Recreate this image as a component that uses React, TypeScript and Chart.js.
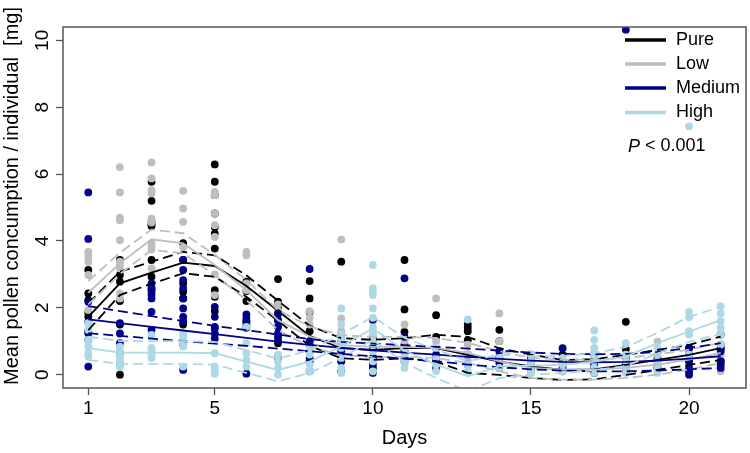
import React, { useEffect, useRef } from "react";
import { Chart, registerables } from "chart.js";

Chart.register(...registerables);

const days = [1, 2, 3, 4, 5, 6, 7, 8, 9, 10, 11, 12, 13, 14, 15, 16, 17, 18, 19, 20, 21];
const xTicks = [1, 5, 10, 15, 20];
const yTicks = [0, 2, 4, 6, 8, 10];
const groupNames = ["Pure", "Low", "Medium", "High"];
const groupColors = ["#000000", "#BEBEBE", "#00008B", "#ADD8E6"];
const xTitle = "Days";
const yTitle = "Mean pollen concumption / individual  [mg]";
const pText = " < 0.001";

// observed values per day (index 0 = day 1)
const purePoints = [
  [3.13, 2.43, 2.23, 1.85, 1.73, 1.3],
  [3.43, 2.98, 2.78, 2.2, 1.5, 0.0],
  [5.77, 5.2, 4.57, 4.5, 4.45, 3.43, 2.93, 2.55],
  [3.93, 3.43, 2.73, 2.48, 2.28, 1.5, 0.9],
  [6.29, 5.77, 5.37, 4.82, 4.42, 4.22, 3.77, 2.53, 2.33, 1.9],
  [2.78, 2.5, 2.2, 1.6],
  [2.86, 2.18, 2.03, 1.83, 1.63, 1.13, 0.94],
  [2.8, 2.28, 1.88, 1.3, 0.9, 0.5],
  [3.38, 1.2, 0.8, 0.4],
  [1.1, 0.8, 0.5, 0.2],
  [3.43, 1.95, 1.28, 0.9, 0.5],
  [1.78, 1.13, 0.8, 0.5],
  [1.5, 1.4, 1.3, 1.03, 0.6],
  [1.34, 1.0, 0.5, 0.2],
  [0.6, 0.3, 0.1],
  [0.6, 0.3, 0.1],
  [0.4, 0.2, 0.05],
  [1.58, 0.77, 0.3],
  [0.5, 0.2],
  [0.8, 0.4, 0.1],
  [1.2, 0.8, 0.4],
];
const lowPoints = [
  [3.67, 3.53, 3.38, 2.98, 1.93],
  [6.21, 5.45, 4.7, 4.62, 4.02, 3.38, 3.28, 3.18, 2.43, 2.28],
  [6.35, 5.87, 5.52, 5.42, 4.67, 4.55, 3.93, 3.85, 3.75, 3.18],
  [5.5, 4.97, 4.57, 3.8],
  [5.47, 5.37, 4.82, 4.47, 4.12, 3.0, 2.38],
  [3.67, 3.57, 2.73, 2.53],
  [2.1, 1.9, 1.5],
  [1.9, 1.7, 1.5, 1.0],
  [4.04, 1.68, 1.3, 0.8],
  [1.6, 1.2, 0.9],
  [1.5, 1.0, 0.7],
  [2.28, 1.0, 0.6],
  [0.9, 0.5],
  [1.83, 1.0, 0.6],
  [0.3, 0.1],
  [0.4, 0.1],
  [0.3, 0.1],
  [0.5, 0.2],
  [0.99, 0.6, 0.3],
  [0.7, 0.3],
  [0.6, 0.3, 0.1],
];
const mediumPoints = [
  [5.45, 4.06, 2.18, 1.58, 1.24, 1.04, 0.24],
  [1.54, 1.23, 0.94, 0.64, 0.3],
  [2.73, 2.6, 2.5, 2.4, 2.28, 1.88, 1.34],
  [3.43, 3.13, 2.83, 2.58, 2.28, 1.98, 1.73, 1.6, 0.14],
  [2.03, 1.73, 1.43, 1.38, 1.23, 1.08],
  [1.8, 1.7, 1.6, 1.5, 1.4, 0.03],
  [1.83, 1.63, 1.43, 1.23, 1.03, 0.5],
  [3.16, 1.0, 0.7, 0.4, 0.1],
  [1.0, 0.7, 0.4, 0.1],
  [1.65, 0.8, 0.5, 0.3, 0.05],
  [2.88, 1.13, 0.7, 0.4],
  [0.6, 0.4, 0.2],
  [0.6, 0.3],
  [0.7, 0.5, 0.35],
  [0.5, 0.2],
  [0.79, 0.4, 0.2],
  [0.6, 0.3],
  [10.32, 0.5, 0.3, 0.1],
  [0.4, 0.2],
  [0.8, 0.6, 0.4, 0.2, 0.0],
  [0.9, 0.8, 0.7, 0.4, 0.3, 0.2],
];
const highPoints = [
  [1.54, 1.34, 1.04, 0.84, 0.64, 0.54],
  [0.84, 0.7, 0.6, 0.5, 0.4, 0.3, 0.24],
  [1.19, 0.8, 0.7, 0.6, 0.5],
  [1.24, 1.14, 1.04, 0.94, 0.84, 0.24],
  [0.64, 0.24, 0.1, 0.03],
  [1.43, 0.94, 0.64, 0.44, 0.24],
  [0.6, 0.4, 0.2, 0.0],
  [0.8, 0.6, 0.3, 0.1],
  [1.98, 1.5, 1.2, 1.0, 0.8, 0.5, 0.2, 0.05],
  [3.28, 2.58, 2.48, 2.38, 1.98, 1.7, 1.4, 1.2, 1.0, 0.7, 0.4, 0.1],
  [0.8, 0.6, 0.4, 0.2],
  [0.8, 0.5, 0.3, 0.1],
  [1.65, 0.6, 0.3, 0.1],
  [0.5, 0.2],
  [0.6, 0.4, 0.2, 0.05],
  [0.5, 0.3, 0.1],
  [1.32, 1.04, 0.8, 0.6, 0.4, 0.2, 0.05],
  [0.94, 0.6, 0.4, 0.2, 0.05],
  [0.8, 0.6, 0.4, 0.2, 0.05],
  [7.43, 1.88, 1.72, 1.3, 1.2, 0.6],
  [2.05, 1.83, 1.6, 1.4, 1.2, 0.9],
];

// fitted curves with confidence bands (index 0 = day 1)
const pureFit = [1.73, 2.73, 3.05, 3.35, 3.25, 2.65, 1.91, 1.16, 0.79, 0.74, 0.79, 0.79, 0.59, 0.39, 0.25, 0.14, 0.16, 0.29, 0.44, 0.59, 0.79];
const pureUpper = [2.13, 3.08, 3.38, 3.67, 3.57, 2.97, 2.21, 1.46, 1.09, 1.04, 1.09, 1.19, 1.13, 0.79, 0.6, 0.44, 0.46, 0.59, 0.74, 0.89, 1.14];
const pureLower = [1.33, 2.38, 2.72, 3.03, 2.93, 2.33, 1.61, 0.86, 0.49, 0.44, 0.49, 0.39, 0.05, -0.01, -0.1, -0.16, -0.14, -0.01, 0.14, 0.29, 0.44];
const lowFit = [2.45, 3.33, 4.05, 3.93, 3.28, 2.53, 1.63, 1.14, 0.88, 0.83, 0.83, 0.8, 0.65, 0.4, 0.2, 0.15, 0.15, 0.2, 0.3, 0.45, 0.65];
const lowUpper = [2.8, 3.65, 4.34, 4.23, 3.58, 2.83, 1.93, 1.44, 1.18, 1.13, 1.13, 1.1, 0.95, 0.7, 0.5, 0.45, 0.45, 0.5, 0.6, 0.75, 0.95];
const lowLower = [2.1, 3.01, 3.73, 3.63, 2.98, 2.23, 1.33, 0.84, 0.58, 0.53, 0.53, 0.5, 0.35, 0.1, -0.1, -0.15, -0.15, -0.1, 0.0, 0.15, 0.35];
const mediumFit = [1.65, 1.54, 1.43, 1.32, 1.21, 1.1, 0.99, 0.89, 0.8, 0.73, 0.66, 0.6, 0.53, 0.47, 0.42, 0.38, 0.37, 0.38, 0.42, 0.48, 0.55];
const mediumUpper = [2.05, 1.9, 1.75, 1.6, 1.46, 1.33, 1.2, 1.06, 0.98, 0.93, 0.88, 0.83, 0.78, 0.72, 0.66, 0.62, 0.61, 0.62, 0.68, 0.8, 0.94];
const mediumLower = [1.24, 1.16, 1.08, 1.0, 0.93, 0.86, 0.78, 0.7, 0.62, 0.55, 0.48, 0.4, 0.3, 0.22, 0.16, 0.12, 0.1, 0.1, 0.12, 0.16, 0.2];
const highFit = [0.79, 0.66, 0.66, 0.66, 0.64, 0.39, 0.14, 0.39, 0.85, 1.38, 0.72, 0.3, -0.05, 0.25, 0.27, 0.29, 0.39, 0.54, 0.94, 1.29, 1.63];
const highUpper = [1.14, 1.0, 1.0, 1.0, 0.98, 0.73, 0.48, 0.73, 1.2, 1.73, 1.1, 0.75, 0.4, 0.6, 0.55, 0.55, 0.65, 0.82, 1.25, 1.73, 2.03];
const highLower = [0.44, 0.32, 0.32, 0.32, 0.3, 0.05, -0.2, 0.05, 0.5, 1.04, 0.35, -0.1, -0.5, -0.1, 0.0, 0.05, 0.13, 0.26, 0.63, 0.98, 1.22];

const FONT = "'Liberation Sans', Arial, Helvetica, sans-serif";

export default function App() {
  const ref = useRef<HTMLCanvasElement | null>(null);

  useEffect(() => {
    if (!ref.current) return;
    const groups = [
      { points: purePoints, fit: pureFit, upper: pureUpper, lower: pureLower },
      { points: lowPoints, fit: lowFit, upper: lowUpper, lower: lowLower },
      { points: mediumPoints, fit: mediumFit, upper: mediumUpper, lower: mediumLower },
      { points: highPoints, fit: highFit, upper: highUpper, lower: highLower },
    ];
    const datasets: any[] = [];
    groups.forEach((g, gi) => {
      const color = groupColors[gi];
      datasets.push({
        label: groupNames[gi] + " points",
        data: g.points.flatMap((vals, i) => vals.map((v) => ({ x: days[i], y: v }))),
        showLine: false,
        pointRadius: 3.9,
        pointBorderWidth: 0,
        pointBackgroundColor: color,
        pointBorderColor: color,
        order: 20 - gi,
      });
      const lineBase = {
        showLine: true,
        pointRadius: 0,
        borderColor: color,
        borderWidth: 1.8,
        tension: 0,
        fill: false,
        order: 10 - gi,
      };
      datasets.push({ ...lineBase, label: groupNames[gi], data: days.map((d, i) => ({ x: d, y: g.fit[i] })) });
      datasets.push({ ...lineBase, label: groupNames[gi] + " upper", borderDash: [10, 5], data: days.map((d, i) => ({ x: d, y: g.upper[i] })) });
      datasets.push({ ...lineBase, label: groupNames[gi] + " lower", borderDash: [10, 5], data: days.map((d, i) => ({ x: d, y: g.lower[i] })) });
    });

    const decor = {
      id: "decor",
      afterDatasetsDraw(chart: any) {
        const { ctx, chartArea } = chart;
        ctx.save();
        ctx.strokeStyle = "#555555";
        ctx.lineWidth = 1.5;
        ctx.strokeRect(chartArea.left, chartArea.top, chartArea.right - chartArea.left, chartArea.bottom - chartArea.top);
        // legend
        const lx0 = 625, lx1 = 666, tx = 676;
        const rows = [40, 64, 88, 112.5];
        ctx.font = `18px ${FONT}`;
        ctx.textBaseline = "middle";
        ctx.textAlign = "left";
        groupNames.forEach((n, i) => {
          ctx.strokeStyle = groupColors[i];
          ctx.lineWidth = 3.5;
          ctx.beginPath();
          ctx.moveTo(lx0, rows[i]);
          ctx.lineTo(lx1, rows[i]);
          ctx.stroke();
          ctx.fillStyle = "#000";
          ctx.fillText(n, tx, rows[i]);
        });
        ctx.font = `italic 18px ${FONT}`;
        ctx.fillText("P", 628, 146.5);
        const w = ctx.measureText("P").width;
        ctx.font = `18px ${FONT}`;
        ctx.fillText(pText, 628 + w, 146.5);
        // y-axis title
        ctx.translate(12, 196);
        ctx.rotate(-Math.PI / 2);
        ctx.textAlign = "center";
        ctx.font = `20px ${FONT}`;
        ctx.fillText(yTitle, 0, 0);
        ctx.restore();
      },
    };

    const chart = new Chart(ref.current, {
      type: "scatter",
      data: { datasets },
      options: {
        animation: false,
        responsive: false,
        devicePixelRatio: 1,
        layout: { padding: { top: 27, right: 2, left: 0, bottom: 0 } },
        plugins: { legend: { display: false }, tooltip: { enabled: false } },
        scales: {
          x: {
            type: "linear",
            min: 0.2,
            max: 21.8,
            afterBuildTicks: (s: any) => {
              s.ticks = xTicks.map((v) => ({ value: v }));
            },
            afterFit: (s: any) => {
              s.height = 65;
            },
            grid: { display: true, drawOnChartArea: false, drawTicks: true, tickLength: 7, tickColor: "#555555", tickWidth: 1.3 },
            border: { display: false },
            ticks: { color: "#000", font: { family: FONT, size: 19 }, padding: 2, maxRotation: 0, autoSkip: false },
            title: { display: true, text: xTitle, color: "#000", font: { family: FONT, size: 20, lineHeight: 1 }, padding: { top: 0, bottom: 5 } },
          },
          y: {
            type: "linear",
            min: -0.4,
            max: 10.4,
            afterBuildTicks: (s: any) => {
              s.ticks = yTicks.map((v) => ({ value: v }));
            },
            afterFit: (s: any) => {
              s.width = 63;
            },
            grid: { display: true, drawOnChartArea: false, drawTicks: true, tickLength: 7, tickColor: "#555555", tickWidth: 1.3 },
            border: { display: false },
            ticks: { color: "#000", font: { family: FONT, size: 19 }, padding: 3, minRotation: 90, maxRotation: 90, crossAlign: "center", autoSkip: false },
            title: { display: false },
          },
        },
      },
      plugins: [decor],
    } as any);
    return () => chart.destroy();
  }, []);

  return (
    <div style={{ position: "fixed", left: 0, top: 0, width: 750, height: 453, background: "#fff" }}>
      <canvas ref={ref} width={750} height={453} style={{ width: 750, height: 453, display: "block" }} />
    </div>
  );
}
